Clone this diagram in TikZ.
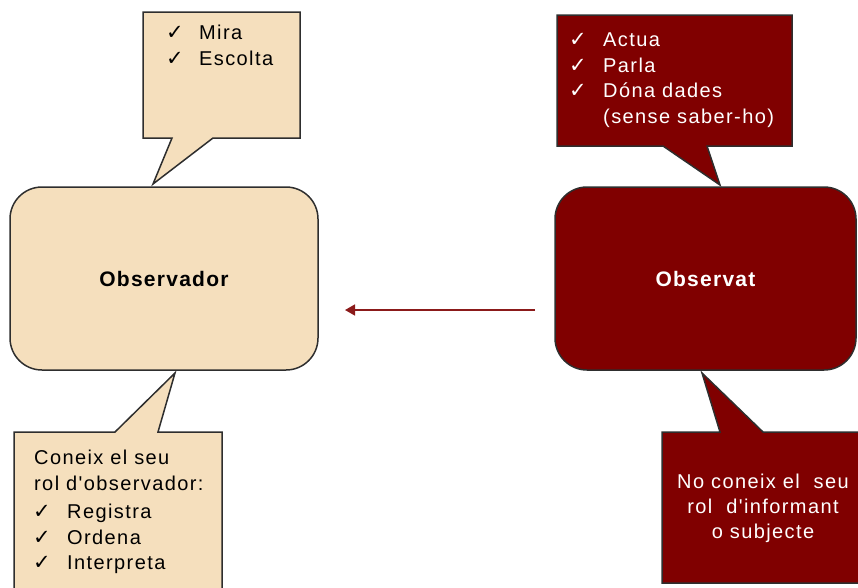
\documentclass[tikz,border=0pt]{standalone}
\usepackage{fontspec}
\setmainfont{Liberation Sans}
\newfontfamily\wfnt[LetterSpace=7]{Liberation Sans}
\newfontfamily\bfnt[LetterSpace=6]{Liberation Sans Bold}
\newfontfamily\cknt{DejaVu Sans}
\usetikzlibrary{arrows.meta}
\definecolor{beige}{HTML}{F5DFBD}
\definecolor{dred}{HTML}{800000}
\definecolor{edge}{HTML}{2E2E2E}
\definecolor{arr}{HTML}{8B1A1A}
\begin{document}
\begin{tikzpicture}[x=1pt,y=-1pt,
  callout/.style={draw=edge,line width=1.5pt,line join=miter},
  bigbox/.style={draw=edge,line width=1.5pt,rounded corners=32pt,minimum width=301pt,minimum height=183pt,inner sep=0pt},
  txt/.style={anchor=base west,inner sep=0pt,font=\wfnt\fontsize{20}{25}\selectfont},
  ctxt/.style={anchor=base,inner sep=0pt,font=\wfnt\fontsize{20}{25}\selectfont},
  tick/.style={anchor=base west,inner sep=0pt,font=\cknt\fontsize{21}{25}\selectfont}]
\useasboundingbox (0,0) rectangle (858,587);
\clip (0,0) rectangle (858,587);
% callouts
\draw[callout,fill=beige] (143,12) -- (300,12) -- (300,138) -- (213,138) -- (153,184) -- (172,138) -- (143,138) -- cycle;
\draw[callout,fill=dred] (557,15) -- (792,15) -- (792,146) -- (707,146) -- (720,185) -- (663,146) -- (557,146) -- cycle;
\draw[callout,fill=beige] (14,600) -- (14,432) -- (115,432) -- (175,373) -- (158,432) -- (222,432) -- (222,600);
\draw[callout,fill=dred] (875,432) -- (763,432) -- (702,373) -- (720,432) -- (662,432) -- (662,583) -- (875,583);
% main boxes
\node[bigbox,fill=beige,minimum width=308pt,font=\bfnt\fontsize{21}{25}\selectfont] (obsL) at (164,278.5) {Observador};
\node[bigbox,fill=dred,text=white,font=\bfnt\fontsize{21}{25}\selectfont] (obsR) at (705.5,278.5) {Observat};
% arrow
\coordinate (aS) at (535,310);
\coordinate (aE) at (345,310);
\draw[arr,line width=1.5pt,-{Triangle[length=10pt,width=11pt]}] (aS) -- (aE);
% top-left text
\node[tick] (t1a) at (166,39) {✓};
\node[txt] (t1) at (199,39) {Mira};
\node[tick] (t2a) at (166,65) {✓};
\node[txt] (t2) at (199,65) {Escolta};
% top-right text
\begin{scope}[every node/.append style={text=white}]
\node[tick] (r1a) at (569,46) {✓};
\node[txt] (r1) at (603,46) {Actua};
\node[tick] (r2a) at (569,72) {✓};
\node[txt] (r2) at (603,72) {Parla};
\node[tick] (r3a) at (569,97) {✓};
\node[txt] (r3) at (603,97) {Dóna dades};
\node[txt] (r4) at (603,123) {(sense saber-ho)};
\node[ctxt] (b1) at (763,488) {No coneix el\ \ seu};
\node[ctxt] (b2) at (763,513) {rol\ \ d{\char"27}informant};
\node[ctxt] (b3) at (763,538) {o subjecte};
\end{scope}
% bottom-left text
\node[txt] (l1) at (34,464) {Coneix el seu};
\node[txt] (l2) at (34,490) {rol d{\char"27}observador:};
\node[tick] (l3a) at (33,518) {✓};
\node[txt] (l3) at (67,518) {Registra};
\node[tick] (l4a) at (33,544) {✓};
\node[txt] (l4) at (67,544) {Ordena};
\node[tick] (l5a) at (33,569) {✓};
\node[txt] (l5) at (67,569) {Interpreta};
\end{tikzpicture}
\end{document}
